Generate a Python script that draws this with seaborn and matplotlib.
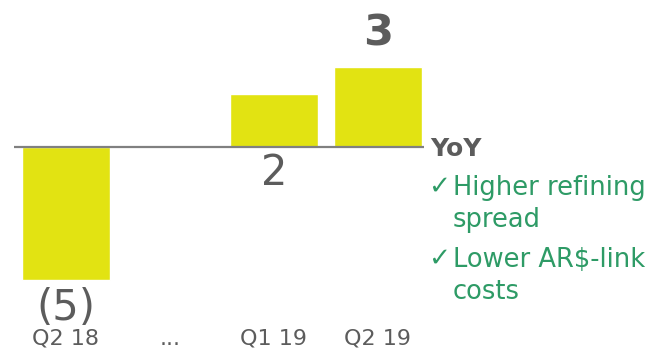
import numpy as np
import pandas as pd
import matplotlib
matplotlib.use("Agg")
import matplotlib.pyplot as plt
import seaborn as sns

# Quarterly result change (bar values and the labels printed with them)
quarters = ["Q2 18", "...", "Q1 19", "Q2 19"]
values = [-5, np.nan, 2, 3]
value_labels = ["(5)", "", "2", "3"]
drivers = ["Higher refining\nspread", "Lower AR$-link\ncosts"]

BAR = "#e2e312"
GREY = "#5c5c5c"
AXIS = "#808080"
GREEN = "#2e9b66"

sns.set_theme(style="white")
plt.rcParams["font.family"] = ["DejaVu Sans"]

W, H = 660, 351
fig = plt.figure(figsize=(W / 100, H / 100), dpi=100)
bottom_px = 326
ax = fig.add_axes([0, (H - bottom_px) / H, 1, bottom_px / H])

df = pd.DataFrame({"quarter": quarters, "value": values})
sns.barplot(data=df, x="quarter", y="value", order=quarters, color=BAR,
            saturation=1, width=0.84, ax=ax)

# vertical scale: 26.5 px per unit, zero line at 147 px from top
ppu = 26.5
zero_px = 147
ax.set_ylim(-(bottom_px - zero_px) / ppu, zero_px / ppu)
ax.set_xlim(-66 / 104, (W - 66) / 104)

ax.hlines(0, -0.5, 3.44, color=AXIS, lw=1.6, zorder=5)

for s in ax.spines.values():
    s.set_visible(False)
ax.set_yticks([])
ax.set_xlabel("")
ax.set_ylabel("")
ax.tick_params(axis="x", length=0, pad=2, labelsize=16, labelcolor=GREY)

# value labels
for i, (v, lab) in enumerate(zip(values, value_labels)):
    if not lab:
        continue
    if v < 0:
        ax.annotate(lab, (i, v), xytext=(0, -29), textcoords="offset points",
                    ha="center", va="baseline", fontsize=30, color=GREY)
    elif lab == "3":
        ax.annotate(lab, (i, v), xytext=(0, 16), textcoords="offset points",
                    ha="center", va="baseline", fontsize=31, color=GREY,
                    fontweight="bold")
    else:
        ax.annotate(lab, (i, 0), xytext=(0, -27.5), textcoords="offset points",
                    ha="center", va="baseline", fontsize=30, color=GREY)

# commentary on the right
def px(x, y):
    return x / W, 1 - y / H

fig.text(*px(430, 156), "YoY", fontsize=18, fontweight="bold", color=GREY,
         ha="left", va="baseline")
base = 195
for d in drivers:
    first, second = d.split("\n")
    fig.text(*px(428, base - 1), "\u2713", fontsize=19, color=GREEN,
             ha="left", va="baseline")
    fig.text(*px(453, base), first, fontsize=18.5, color=GREEN,
             ha="left", va="baseline")
    fig.text(*px(453, base + 32), second, fontsize=18.5, color=GREEN,
             ha="left", va="baseline")
    base += 72

fig.savefig("out.png", dpi=100)
